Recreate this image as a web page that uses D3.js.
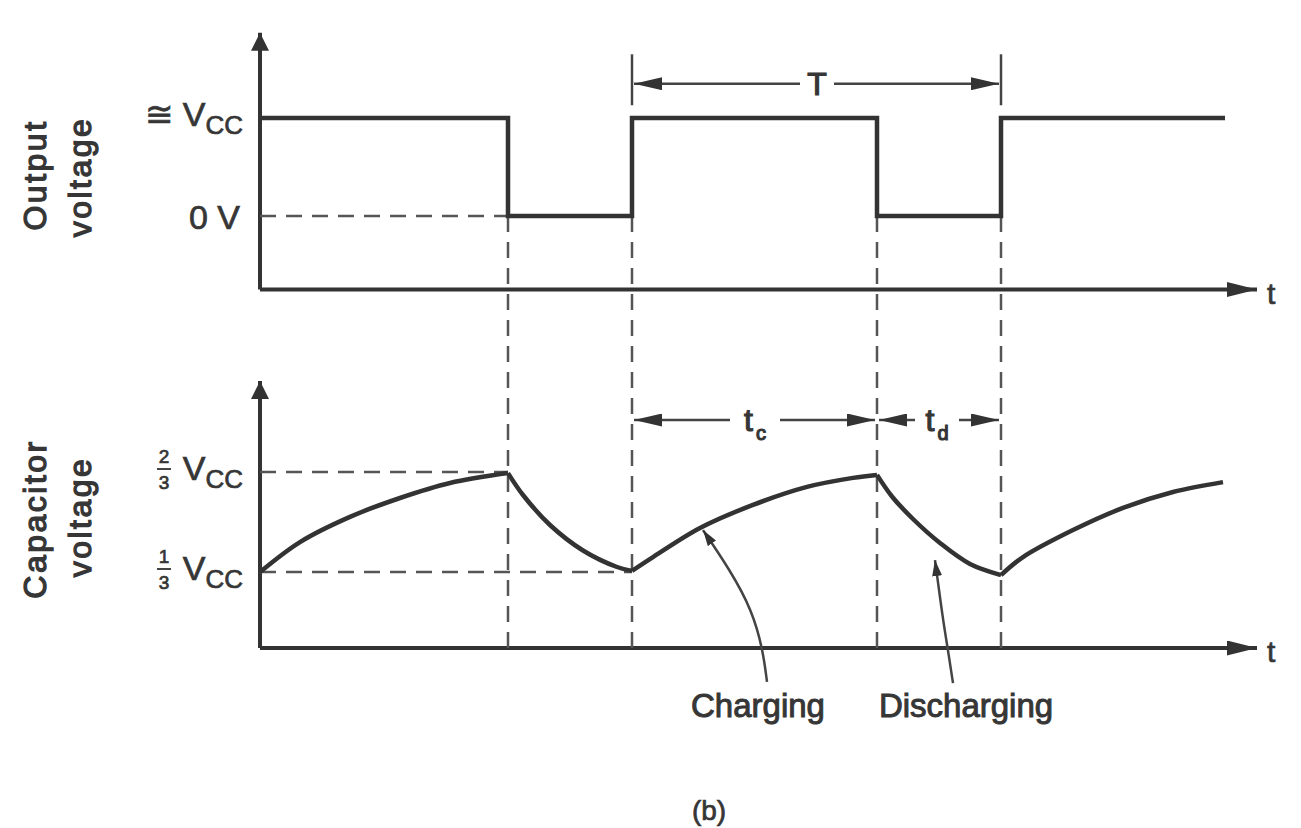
<!DOCTYPE html>
<html>
<head>
<meta charset="utf-8">
<script src="https://cdn.jsdelivr.net/npm/d3@7"></script>
<style>
  body { margin: 0; background: #fff; }
  text { font-family: "Liberation Sans", Arial, sans-serif; fill: #363636; stroke: #363636; stroke-width: 0.7; }
</style>
</head>
<body>
<div id="chart"></div>
<script>
// Data (time in arbitrary units, voltage in fractions of Vcc)
const transitions = [24.8, 37.2, 61.7, 74.1]
const outTimes = [0, 24.8, 37.2, 61.7, 74.1, 96.5]
const outLevels = [1, 0, 1, 0, 1, 1]

const capCharge1 = [[0, 0.333], [4.0, 0.433], [9.0, 0.517], [14.0, 0.58], [19.0, 0.63], [24.8, 0.663]]
const capDischarge1 = [[24.8, 0.663], [26.3, 0.59], [29.0, 0.49], [32.3, 0.405], [35.7, 0.35], [37.2, 0.337]]
const capCharge2 = [[37.2, 0.337], [39.3, 0.383], [44.0, 0.48], [49.3, 0.557], [54.7, 0.617], [59.3, 0.647], [61.7, 0.657]]
const capDischarge2 = [[61.7, 0.657], [63.2, 0.585], [65.3, 0.51], [68.0, 0.43], [71.0, 0.36], [74.1, 0.323]]
const capCharge3 = [[74.1, 0.323], [76.3, 0.383], [81.3, 0.473], [86.3, 0.547], [91.3, 0.6], [96.3, 0.633]]

const chargingLeader = [[44.3, 0.473], [47.0, 0.34], [49.2, 0.207], [50.3, 0.073], [50.7, -0.033]]
const dischargingLeader = [[67.5, 0.373], [68.3, 0.173], [68.8, 0.073], [69.3, -0.037]]

const width = 1301
const height = 828
const ink = "#333"

const svg = d3.select('#chart').append('svg')
  .attr('width', width)
  .attr('height', height)

// Scales
const x = d3.scaleLinear().domain([0, 100]).range([260, 1260])
const yOut = d3.scaleLinear().domain([0, 1]).range([216, 118])
const yCap = d3.scaleLinear().domain([1 / 3, 2 / 3]).range([572, 472])

const outBase = -0.75
const capBase = 0.08

// Arrow markers
const defs = svg.append('defs')
function marker(id, w, h) {
  defs.append('marker')
    .attr('id', id)
    .attr('viewBox', '0 0 10 10')
    .attr('refX', 10).attr('refY', 5)
    .attr('markerUnits', 'userSpaceOnUse')
    .attr('markerWidth', w).attr('markerHeight', h)
    .attr('preserveAspectRatio', 'none')
    .attr('orient', 'auto-start-reverse')
    .append('path')
    .attr('d', 'M0,0 L10,5 L0,10 z')
    .attr('fill', ink)
}
marker('axisArrow', 30, 15)
marker('vAxisArrow', 18, 18)
marker('dimArrow', 28, 13)
marker('leadArrow', 16, 10)

const line = d3.line().x(d => x(d[0]))

// Axes
function axes(y, base, top) {
  svg.append('path')
    .attr('d', `M${x(0)},${y(base)} L${x(99.7)},${y(base)}`)
    .attr('stroke', ink).attr('stroke-width', 4).attr('fill', 'none')
    .attr('marker-end', 'url(#axisArrow)')
  svg.append('path')
    .attr('d', `M${x(0)},${y(base)} L${x(0)},${y(top)}`)
    .attr('stroke', ink).attr('stroke-width', 4).attr('fill', 'none')
    .attr('marker-end', 'url(#vAxisArrow)')
  svg.append('text')
    .attr('x', x(100.7)).attr('y', y(base) + 14)
    .attr('font-size', 30)
    .text('t')
}
axes(yOut, outBase, 1.87)
axes(yCap, capBase, 0.97)

// Dashed guide lines
const dash = '16,10'
svg.append('g').selectAll('line')
  .data(transitions)
  .enter().append('line')
  .attr('x1', d => x(d)).attr('x2', d => x(d))
  .attr('y1', yOut(0)).attr('y2', yCap(capBase))
  .attr('stroke', '#555').attr('stroke-width', 2.5)
  .attr('stroke-dasharray', dash)

const guides = [
  { y: yOut(0), t: transitions[0] },
  { y: yCap(2 / 3), t: transitions[0] },
  { y: yCap(1 / 3), t: transitions[1] }
]
svg.append('g').selectAll('line')
  .data(guides)
  .enter().append('line')
  .attr('x1', x(0)).attr('x2', d => x(d.t))
  .attr('y1', d => d.y).attr('y2', d => d.y)
  .attr('stroke', '#555').attr('stroke-width', 2.5)
  .attr('stroke-dasharray', dash)

// Output waveform
svg.append('path')
  .datum(outTimes.map((t, i) => [t, outLevels[i]]))
  .attr('d', line.y(d => yOut(d[1])).curve(d3.curveStepAfter))
  .attr('stroke', ink).attr('stroke-width', 4.5).attr('fill', 'none')

// Capacitor waveform
const capLine = d3.line().x(d => x(d[0])).y(d => yCap(d[1])).curve(d3.curveCatmullRom)
svg.append('g').selectAll('path')
  .data([capCharge1, capDischarge1, capCharge2, capDischarge2, capCharge3])
  .enter().append('path')
  .attr('d', capLine)
  .attr('stroke', ink).attr('stroke-width', 4.5).attr('fill', 'none')
  .attr('stroke-linejoin', 'round')

// Period markers
svg.append('g').selectAll('line')
  .data([transitions[1], transitions[3]])
  .enter().append('line')
  .attr('x1', d => x(d)).attr('x2', d => x(d))
  .attr('y1', yOut(1.65)).attr('y2', yOut(1.13))
  .attr('stroke', '#444').attr('stroke-width', 2.5)

// Dimension arrows with label in the gap
function dimension(t0, t1, y, mid, gap, label, sub) {
  svg.append('line')
    .attr('x1', x(mid) - gap).attr('x2', x(t0) + 2)
    .attr('y1', y).attr('y2', y)
    .attr('stroke', '#444').attr('stroke-width', 2.5)
    .attr('marker-end', 'url(#dimArrow)')
  svg.append('line')
    .attr('x1', x(mid) + gap).attr('x2', x(t1) - 2)
    .attr('y1', y).attr('y2', y)
    .attr('stroke', '#444').attr('stroke-width', 2.5)
    .attr('marker-end', 'url(#dimArrow)')
  const txt = svg.append('text')
    .attr('x', x(mid)).attr('y', y + 11)
    .attr('text-anchor', 'middle')
    .attr('font-size', 32)
    .style('stroke-width', 1.2)
    .text(label)
  if (sub) {
    txt.append('tspan').attr('font-size', 20).attr('dy', 9).attr('dx', 3).text(sub)
  }
}
dimension(transitions[1], transitions[3], yOut(1.35), 55.7, 17, 'T')
dimension(transitions[1], transitions[2], yCap(0.84), 49.5, 25, 't', 'c')
dimension(transitions[2], transitions[3], yCap(0.84), 67.7, 22, 't', 'd')

// Y labels
function vcc(y, prefix) {
  const t = svg.append('text')
    .attr('x', 243).attr('y', y + 8)
    .attr('text-anchor', 'end')
    .attr('font-size', 34)
  t.append('tspan').text(prefix + 'V')
  t.append('tspan').attr('font-size', 26).attr('dy', 8).text('CC')
}
vcc(yOut(1), '\u2245 ')
svg.append('text')
  .attr('x', 240).attr('y', yOut(0) + 13)
  .attr('text-anchor', 'end')
  .attr('font-size', 34)
  .text('0 V')

function fraction(y, num) {
  vcc(y, '')
  svg.append('text').attr('x', 164).attr('y', y - 9)
    .attr('text-anchor', 'middle').attr('font-size', 19).text(num)
  svg.append('line').attr('x1', 157).attr('x2', 171)
    .attr('y1', y - 3).attr('y2', y - 3)
    .attr('stroke', '#444').attr('stroke-width', 2)
  svg.append('text').attr('x', 164).attr('y', y + 17)
    .attr('text-anchor', 'middle').attr('font-size', 19).text('3')
}
fraction(yCap(2 / 3), '2')
fraction(yCap(1 / 3), '1')

// Rotated axis titles
function title(cx, cy, text) {
  svg.append('text')
    .attr('transform', `translate(${cx},${cy}) rotate(-90)`)
    .attr('text-anchor', 'middle')
    .attr('font-size', 32)
    .attr('letter-spacing', 2.5)
    .style('stroke-width', 1.3)
    .text(text)
}
title(46, 175, 'Output')
title(91, 177, 'voltage')
title(46, 519, 'Capacitor')
title(91, 517, 'voltage')

// Annotations
const leader = d3.line().x(d => x(d[0])).y(d => yCap(d[1])).curve(d3.curveBasis)
svg.append('g').selectAll('path')
  .data([chargingLeader, dischargingLeader])
  .enter().append('path')
  .attr('d', leader)
  .attr('stroke', '#444').attr('stroke-width', 2.5).attr('fill', 'none')
  .attr('marker-start', 'url(#leadArrow)')

svg.append('g').selectAll('text')
  .data([{ t: 49.8, label: 'Charging' }, { t: 70.6, label: 'Discharging' }])
  .enter().append('text')
  .attr('x', d => x(d.t)).attr('y', yCap(-0.15))
  .attr('text-anchor', 'middle')
  .attr('font-size', 33)
  .style('stroke-width', 1)
  .text(d => d.label)

// Caption
svg.append('text')
  .attr('x', 709).attr('y', 820)
  .attr('text-anchor', 'middle')
  .attr('font-size', 28)
  .text('(b)')
</script>
</body>
</html>
